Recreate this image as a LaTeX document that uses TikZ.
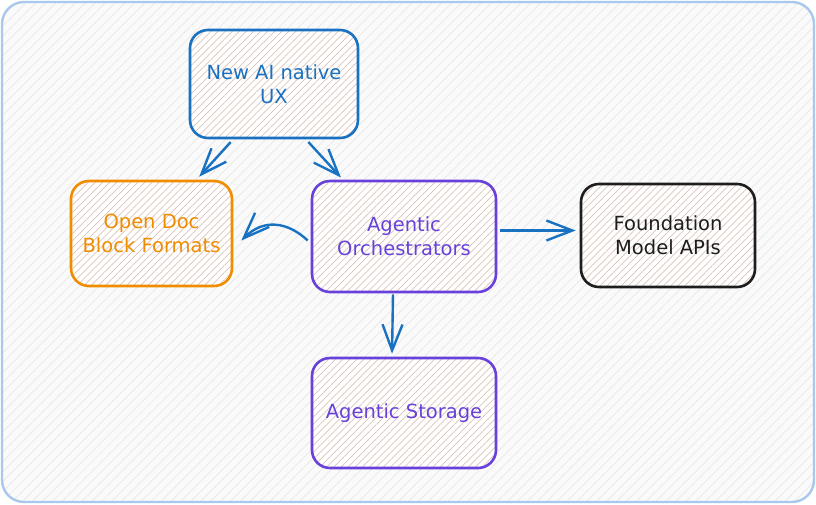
\documentclass[tikz,border=0pt]{standalone}
\usepackage{fontspec}
\setmainfont{DejaVu Sans}
\usepackage{tikz}
\usetikzlibrary{arrows.meta, positioning, calc, patterns.meta}
\usepackage{xcolor}
\definecolor{exblue}{HTML}{1971C2}
\definecolor{exorange}{HTML}{F08C00}
\definecolor{expurple}{HTML}{6741D9}
\definecolor{exblack}{HTML}{1E1E1E}
\definecolor{frameblue}{HTML}{A8C8EC}
\definecolor{hatchin}{HTML}{DCC3BA}
\definecolor{hatchout}{HTML}{E8E8E8}

\begin{document}
\begin{tikzpicture}[x=1pt,y=-1pt,
  box/.style={draw=#1,text=#1,line width=2.6pt,rounded corners=18pt,align=center,
    preaction={fill=white},pattern={Lines[angle=45,distance=5pt,line width=0.7pt]},
    pattern color=hatchin,font=\fontsize{19.5}{24}\selectfont,inner sep=0pt},
  arr/.style={draw=exblue,line width=2.4pt,-{Straight Barb[length=26pt,width=20pt,line width=2.4pt]}}]
  \useasboundingbox (0,0) rectangle (816,504);
  % frame
  \draw[frameblue,line width=2.4pt,rounded corners=22pt,preaction={fill=white!98!black},
    pattern={Lines[angle=45,distance=7pt,line width=0.7pt]},pattern color=hatchout]
    (2,2) rectangle (814,502);
  % boxes
  \node[box=exblue,minimum width=168pt,minimum height=108pt] (ux) at (274,84) {New AI native\\UX};
  \node[box=exorange,minimum width=161pt,minimum height=105pt] (doc) at (151.5,233.5) {Open Doc\\Block Formats};
  \node[box=expurple,minimum width=184pt,minimum height=111pt] (orch) at (404,236.5) {Agentic\\Orchestrators};
  \node[box=exblack,minimum width=174pt,minimum height=103pt] (found) at (668,235.5) {Foundation\\Model APIs};
  \node[box=expurple,minimum width=184pt,minimum height=110pt] (store) at (404,413) {Agentic Storage};
  % arrows
  \draw[arr,shorten <=5pt,shorten >=4pt] ([xshift=-40pt]ux.south) -- ([xshift=45pt]doc.north);
  \draw[arr,shorten <=5pt,shorten >=3pt] ([xshift=31pt]ux.south) -- ([xshift=-61pt]orch.north);
  \draw[arr] ([yshift=-4pt,xshift=-3pt]orch.west) .. controls (288,222) and (264,218) .. ([yshift=-7pt,xshift=8pt]doc.east);
  \draw[arr,line width=3pt,shorten <=3pt,shorten >=4pt] ([yshift=6pt]orch.east) -- ([yshift=6pt]orch.east -| found.west);
  \draw[arr,shorten <=1pt,shorten >=3pt] ([xshift=-11pt]orch.south) -- ([xshift=-12pt]store.north);
\end{tikzpicture}
\end{document}
